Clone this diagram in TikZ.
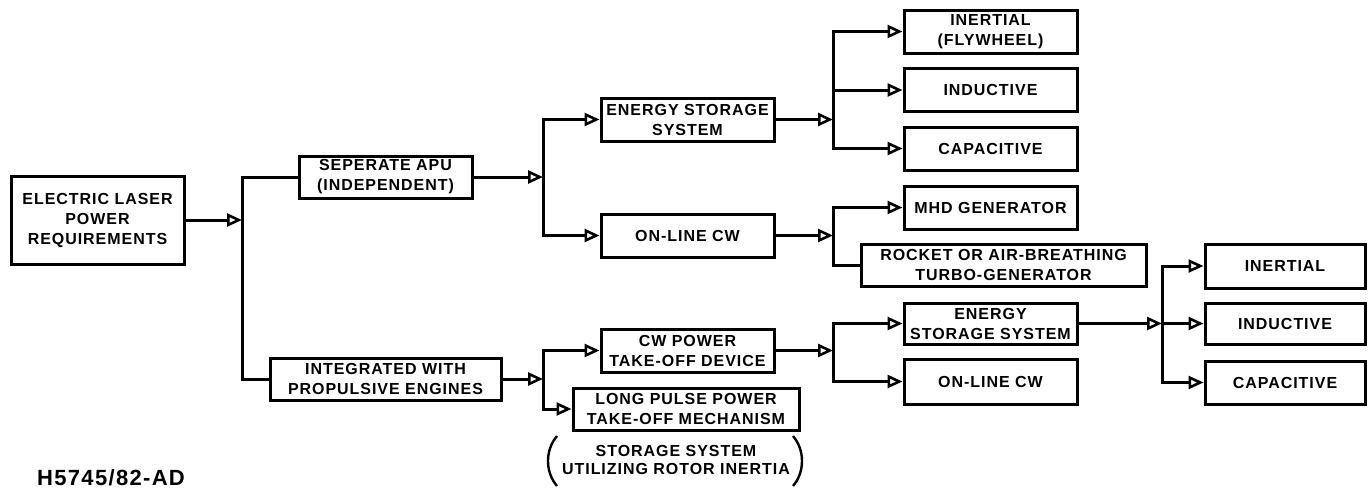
\documentclass[tikz,border=0pt]{standalone}
\usepackage{fontspec}
\setmainfont{Liberation Sans}[LetterSpace=6]
\usetikzlibrary{arrows.meta}
\begin{document}
\begin{tikzpicture}[x=1pt,y=-1pt,
  box/.style={draw, line width=3pt, inner sep=0pt, align=center,
    font=\bfseries\fontsize{16}{20}\selectfont},
  wire/.style={line width=3pt},
  conn/.style={line width=3pt,
    -{Triangle[open,length=15pt,width=13pt,line width=2.6pt]}},
  paren/.style={line width=2.4pt},
  note/.style={inner sep=0pt, anchor=west, font=\bfseries\fontsize{22}{24}\selectfont}
]
\useasboundingbox (0,0) rectangle (1371,490);

% column 1
\node[box, minimum width=173pt, minimum height=88pt] (elp) at (97.5,220)
  {ELECTRIC LASER\\POWER\\REQUIREMENTS};

% column 2
\node[box, minimum width=173pt, minimum height=42pt] (apu) at (385.5,177)
  {SEPERATE APU\\(INDEPENDENT)};
\node[box, minimum width=231pt, minimum height=42pt] (integ) at (385.5,379)
  {INTEGRATED WITH\\PROPULSIVE ENGINES};

% column 3
\node[box, minimum width=173pt, minimum height=43pt] (ess1) at (687.5,119.5)
  {ENERGY STORAGE\\SYSTEM};
\node[box, minimum width=173pt, minimum height=43pt] (olcw1) at (687.5,235.5)
  {ON-LINE CW};
\node[box, minimum width=173pt, minimum height=43pt] (cwpow) at (687.5,350.5)
  {CW POWER\\TAKE-OFF DEVICE};
\node[box, minimum width=226pt, minimum height=42pt] (longp) at (686,409)
  {LONG PULSE POWER\\TAKE-OFF MECHANISM};
\node[inner sep=0pt, align=center, font=\bfseries\fontsize{16}{18}\selectfont] (stor) at (676,460)
  {STORAGE SYSTEM\\UTILIZING ROTOR INERTIA};
\draw[paren] (557,436) .. controls (545,450) and (545,472) .. (557,486);
\draw[paren] (793,436) .. controls (805,450) and (805,472) .. (793,486);

% column 4
\node[box, minimum width=173pt, minimum height=43pt] (inert1) at (990.5,31.5)
  {INERTIAL\\(FLYWHEEL)};
\node[box, minimum width=173pt, minimum height=43pt] (induc1) at (990.5,90)
  {INDUCTIVE};
\node[box, minimum width=173pt, minimum height=43pt] (capac1) at (990.5,148.5)
  {CAPACITIVE};
\node[box, minimum width=173pt, minimum height=43pt] (mhd) at (990.5,207.5)
  {MHD GENERATOR};
\node[box, minimum width=285pt, minimum height=42pt] (rocket) at (1003.5,265)
  {ROCKET OR AIR-BREATHING\\TURBO-GENERATOR};
\node[box, minimum width=173pt, minimum height=41pt] (ess2) at (990.5,323.5)
  {ENERGY\\STORAGE SYSTEM};
\node[box, minimum width=173pt, minimum height=45pt] (olcw2) at (990.5,381.5)
  {ON-LINE CW};

% column 5
\node[box, minimum width=160pt, minimum height=44pt] (inert2) at (1285,266)
  {INERTIAL};
\node[box, minimum width=160pt, minimum height=41pt] (induc2) at (1285,323.5)
  {INDUCTIVE};
\node[box, minimum width=160pt, minimum height=43pt] (capac2) at (1285,382.5)
  {CAPACITIVE};

\node[note] (code) at (37,478) {H5745/82-AD};

% junction points on the buses
\coordinate (j1) at (242,220);
\coordinate (j2) at (543,177);
\coordinate (j3) at (833,119.5);
\coordinate (j4) at (833,235.5);
\coordinate (j5) at (543,379);
\coordinate (j6) at (833,350.5);
\coordinate (j7) at (1162,323.5);

% connectors
\draw[conn] (elp.east) -- (j1);
\draw[wire] (apu.west) -| (j1) |- (integ.west);

\draw[conn] (apu.east) -- (j2);
\draw[conn] (j2) |- (ess1.west);
\draw[conn] (j2) |- (olcw1.west);

\draw[conn] (ess1.east) -- (j3);
\draw[conn] (j3) |- (inert1.west);
\draw[conn] (j3) |- (induc1.west);
\draw[conn] (j3) |- (capac1.west);

\draw[conn] (olcw1.east) -- (j4);
\draw[conn] (j4) |- (mhd.west);
\draw[wire] (j4) |- (rocket.west);

\draw[conn] (integ.east) -- (j5);
\draw[conn] (j5) |- (cwpow.west);
\draw[conn] (j5) |- (longp.west);

\draw[conn] (cwpow.east) -- (j6);
\draw[conn] (j6) |- (ess2.west);
\draw[conn] (j6) |- (olcw2.west);

\draw[conn] (ess2.east) -- (j7);
\draw[conn] (j7) |- (inert2.west);
\draw[conn] (j7) -- (induc2.west);
\draw[conn] (j7) |- (capac2.west);
\end{tikzpicture}
\end{document}
